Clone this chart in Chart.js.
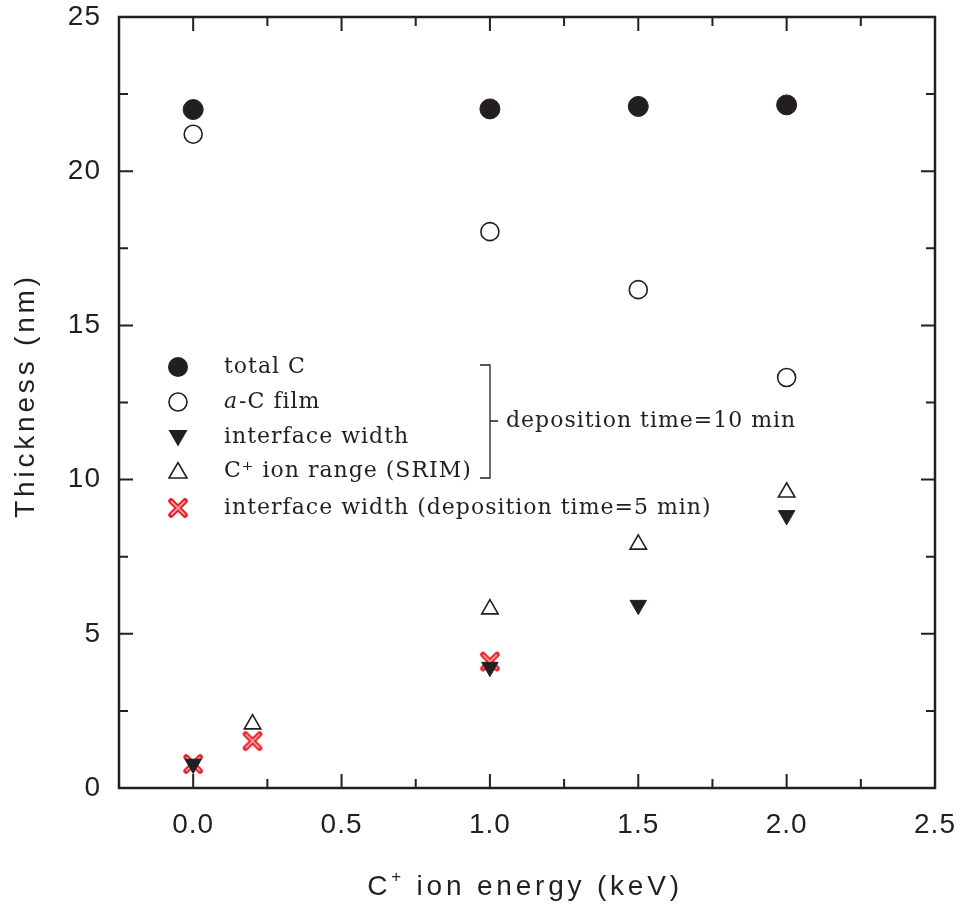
<!DOCTYPE html>
<html><head><meta charset="utf-8">
<script src="https://cdn.jsdelivr.net/npm/chart.js@4.4.1/dist/chart.umd.min.js"></script>
<style>html,body{margin:0;padding:0;background:#fff;}#wrap{width:961px;height:911px;}</style>
</head><body><div id="wrap"><canvas id="c" width="961" height="911"></canvas></div>
<script>
// Data
const energyTotal = [0.0, 1.0, 1.5, 2.0];
const totalC = [22.0, 22.02, 22.1, 22.15];
const energyFilm = [0.0, 1.0, 1.5, 2.0];
const aCFilm = [21.2, 18.04, 16.16, 13.31];
const energyIface = [0.0, 1.0, 1.5, 2.0];
const ifaceWidth = [0.78, 3.92, 5.93, 8.84];
const energyRange = [0.2, 1.0, 1.5, 2.0];
const ionRange = [2.07, 5.8, 7.9, 9.59];
const energyIface5 = [0.0, 0.2, 1.0];
const ifaceWidth5 = [0.78, 1.52, 4.1];
const xTickLabels = ['0.0','0.5','1.0','1.5','2.0','2.5'];
const yTickLabels = ['0','5','10','15','20','25'];
const legendLabels = ['total C','a-C film','interface width','C\u207A ion range (SRIM)','interface width (deposition time=5 min)'];
const bracketLabel = 'deposition time=10 min';
const xTitle = ['C', '+', ' ion energy (keV)'];
const yTitle = 'Thickness (nm)';

function pts(xs, ys){ return xs.map((x,i)=>({x:x,y:ys[i]})); }

// red outlined X marker
function makeX(){
  const c = document.createElement('canvas'); c.width = 22; c.height = 22;
  const g = c.getContext('2d');
  g.lineCap = 'round';
  g.strokeStyle = '#e8202a'; g.lineWidth = 5.5;
  g.beginPath(); g.moveTo(4,4); g.lineTo(18,18); g.moveTo(18,4); g.lineTo(4,18); g.stroke();
  g.strokeStyle = '#ffb0b0'; g.lineWidth = 1.6;
  g.beginPath(); g.moveTo(4.5,4.5); g.lineTo(17.5,17.5); g.moveTo(17.5,4.5); g.lineTo(4.5,17.5); g.stroke();
  return c;
}
const xMark = makeX();
const INK = '#231f20';
const SANS = '"Liberation Sans", Arial, sans-serif';
const SERIF = '"DejaVu Serif", serif';

const spacing = {
  id:'spacing',
  beforeDraw(chart){ if ('letterSpacing' in chart.ctx) chart.ctx.letterSpacing = '1px'; }
};

const frame = {
  id:'frame',
  afterDraw(chart){
    const {ctx, chartArea:a, scales:{x, y}} = chart;
    ctx.save();
    ctx.strokeStyle = INK; ctx.lineWidth = 2.5;
    ctx.strokeRect(a.left, a.top, a.right-a.left, a.bottom-a.top);
    ctx.lineWidth = 2;
    for (let v=-0.25; v<=2.5001; v+=0.25){
      const px = x.getPixelForValue(v);
      if (px < a.left+2 || px > a.right-2) continue;
      const major = Math.abs(v*2-Math.round(v*2))<1e-6;
      const L = major?14:9;
      ctx.beginPath();
      ctx.moveTo(px, a.bottom); ctx.lineTo(px, a.bottom-L);
      ctx.moveTo(px, a.top); ctx.lineTo(px, a.top+L);
      ctx.stroke();
    }
    for (let v=0; v<=25.001; v+=2.5){
      const py = y.getPixelForValue(v);
      if (py < a.top+2 || py > a.bottom-2) continue;
      const major = Math.abs(v/5-Math.round(v/5))<1e-6;
      const L = major?14:9;
      ctx.beginPath();
      ctx.moveTo(a.left, py); ctx.lineTo(a.left+L, py);
      ctx.moveTo(a.right, py); ctx.lineTo(a.right-L, py);
      ctx.stroke();
    }
    const hasLS = ('letterSpacing' in ctx);
    // axis titles
    ctx.fillStyle = INK;
    ctx.textBaseline = 'alphabetic';
    if (hasLS) ctx.letterSpacing = '3.8px';
    ctx.font = '28px ' + SANS;
    const w0 = ctx.measureText(xTitle[0]).width;
    ctx.font = '17px ' + SANS;
    const w1 = ctx.measureText(xTitle[1]).width;
    ctx.font = '28px ' + SANS;
    const w2 = ctx.measureText(xTitle[2]).width;
    const cx = (a.left + a.right)/2 - 2;
    let sx = cx - (w0 + w1 + w2)/2;
    ctx.textAlign = 'left';
    ctx.fillText(xTitle[0], sx, 895);
    ctx.font = '17px ' + SANS;
    ctx.fillText(xTitle[1], sx + w0, 882);
    ctx.font = '28px ' + SANS;
    ctx.fillText(xTitle[2], sx + w0 + w1, 895);
    ctx.save();
    ctx.translate(34, (a.top + a.bottom)/2 - 7);
    ctx.rotate(-Math.PI/2);
    ctx.textAlign = 'center';
    ctx.fillText(yTitle, 0, 0);
    ctx.restore();

    // legend
    const lx = 178, tx = 224;
    const rows = [367, 402, 437, 471, 508];
    ctx.fillStyle = INK;
    ctx.strokeStyle = INK;
    ctx.lineWidth = 1.6;
    ctx.beginPath(); ctx.arc(lx, rows[0], 10, 0, Math.PI*2); ctx.fill();
    ctx.beginPath(); ctx.arc(lx, rows[1], 9, 0, Math.PI*2); ctx.stroke();
    ctx.beginPath(); ctx.moveTo(lx-9.5, rows[2]-7); ctx.lineTo(lx+9.5, rows[2]-7); ctx.lineTo(lx, rows[2]+9.5); ctx.closePath(); ctx.fill();
    ctx.beginPath(); ctx.moveTo(lx-9, rows[3]+7); ctx.lineTo(lx+9, rows[3]+7); ctx.lineTo(lx, rows[3]-8.5); ctx.closePath(); ctx.stroke();
    ctx.drawImage(xMark, lx-11, rows[4]-11);
    if (hasLS) ctx.letterSpacing = '1px';
    ctx.font = '22px ' + SERIF;
    ctx.textBaseline = 'middle';
    ctx.textAlign = 'left';
    ctx.fillText(legendLabels[0], tx, rows[0]);
    ctx.font = 'italic 22px ' + SERIF;
    ctx.fillText('a', tx, rows[1]);
    const aw = ctx.measureText('a').width;
    ctx.font = '22px ' + SERIF;
    ctx.fillText(legendLabels[1].slice(1), tx+aw+1, rows[1]);
    ctx.fillText(legendLabels[2], tx, rows[2]);
    ctx.fillText(legendLabels[3], tx, rows[3]);
    ctx.fillText(legendLabels[4], tx, rows[4]);
    // bracket
    ctx.lineWidth = 1.3;
    ctx.beginPath();
    ctx.moveTo(480, 365); ctx.lineTo(490, 365); ctx.lineTo(490, 478); ctx.lineTo(480, 478);
    ctx.moveTo(490, 421); ctx.lineTo(498, 421);
    ctx.stroke();
    ctx.fillText(bracketLabel, 506, 421);
    ctx.restore();
  }
};

new Chart(document.getElementById('c'), {
  type:'scatter',
  data:{datasets:[
    {label:'total C', data:pts(energyTotal,totalC), pointStyle:'circle', pointRadius:10, backgroundColor:INK, borderColor:INK, borderWidth:1},
    {label:'a-C film', data:pts(energyFilm,aCFilm), pointStyle:'circle', pointRadius:9, backgroundColor:'rgba(0,0,0,0)', borderColor:INK, borderWidth:1.6},
    {label:'C+ ion range', data:pts(energyRange,ionRange), pointStyle:'triangle', pointRadius:9.5, backgroundColor:'rgba(0,0,0,0)', borderColor:INK, borderWidth:1.6},
    {label:'interface width', data:pts(energyIface,ifaceWidth), pointStyle:'triangle', rotation:180, pointRadius:9.5, backgroundColor:INK, borderColor:INK, borderWidth:1},
    {label:'interface width 5 min', data:pts(energyIface5,ifaceWidth5), pointStyle:xMark, pointRadius:11}
  ]},
  options:{
    responsive:false, animation:false, maintainAspectRatio:false,
    layout:{padding:{top:17, right:26, left:0, bottom:0}},
    plugins:{legend:{display:false}, tooltip:{enabled:false}},
    scales:{
      x:{type:'linear', min:-0.25, max:2.5,
        afterBuildTicks(s){ s.ticks = [-0.25,0,0.25,0.5,0.75,1,1.25,1.5,1.75,2,2.25,2.5].map(v=>({value:v})); },
        afterFit(s){ s.height = 123; s.paddingLeft = 0; s.paddingRight = 0; },
        grid:{display:false, drawTicks:false}, border:{display:false},
        ticks:{padding:20, color:INK, font:{family:SANS, size:28}, maxRotation:0, autoSkip:false,
          callback(v){ const i = Math.round(v*2); return (Math.abs(v*2-i)<1e-6) ? xTickLabels[i] : ''; }},
        title:{display:false}
      },
      y:{type:'linear', min:0, max:25,
        afterBuildTicks(s){ s.ticks = [0,5,10,15,20,25].map(v=>({value:v})); },
        afterFit(s){ s.width = 119; s.paddingTop = 0; s.paddingBottom = 0; },
        grid:{display:false, drawTicks:false}, border:{display:false},
        ticks:{padding:18, color:INK, font:{family:SANS, size:28},
          callback(v){ return yTickLabels[Math.round(v/5)]; }},
        title:{display:false}
      }
    }
  },
  plugins:[spacing, frame]
});
</script></body></html>
